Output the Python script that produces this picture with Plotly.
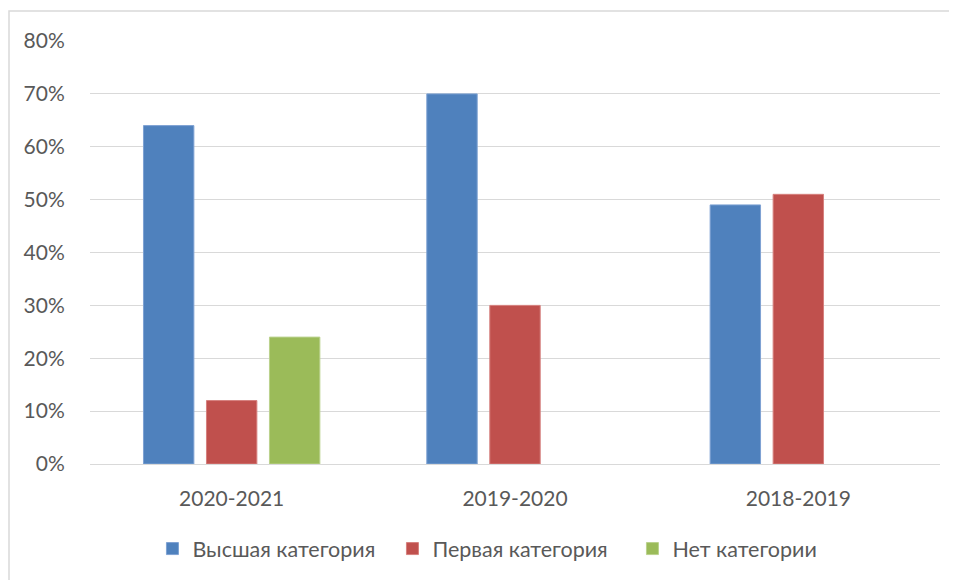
import plotly.graph_objects as go

categories = ["2020-2021", "2019-2020", "2018-2019"]
series_names = ["Высшая категория", "Первая категория", "Нет категории"]
vysshaya = [64, 70, 49]
pervaya = [12, 30, 51]
net = [24, None, None]
colors = ["#4F81BD", "#C0504D", "#9BBB59"]
line_colors = ["#7EA2D3", "#D6807E", "#BAD28D"]
y_ticks = [0, 10, 20, 30, 40, 50, 60, 70, 80]
y_tick_labels = [f"{v}%" for v in y_ticks]

font_family = "Lato, 'Open Sans', sans-serif"
text_color = "#595959"
fs = 21

fig = go.Figure()
for name, vals, c, lc in zip(series_names, [vysshaya, pervaya, net], colors, line_colors):
    fig.add_trace(go.Bar(
        x=categories, y=vals, name=name,
        marker=dict(color=c, line=dict(color=lc, width=1)),
    ))

fig.update_layout(
    width=957, height=580,
    margin=dict(l=82, r=25, t=33, b=124),
    paper_bgcolor="white", plot_bgcolor="white",
    barmode="group", bargap=0.333, bargroupgap=0.2,
    font=dict(family=font_family, size=fs, color=text_color),
    showlegend=True,
    legend=dict(orientation="h", x=0.497, xanchor="center", y=-0.2, yanchor="middle",
                font=dict(size=21.5, color=text_color), traceorder="normal",
                itemwidth=30, entrywidth=195, entrywidthmode="pixels"),
    xaxis=dict(showgrid=False, showline=False, ticks="outside", ticklen=16,
               tickcolor="rgba(0,0,0,0)", tickfont=dict(size=fs, color=text_color),
               fixedrange=True),
    yaxis=dict(range=[0, 80], tickvals=y_ticks, ticktext=y_tick_labels,
               showgrid=True, gridcolor="#D9D9D9", gridwidth=1,
               zeroline=True, zerolinecolor="#D9D9D9", zerolinewidth=1,
               showline=False, ticks="outside", ticklen=20, tickcolor="rgba(0,0,0,0)",
               tickfont=dict(size=fs, color=text_color), fixedrange=True),
    shapes=[dict(type="rect", xref="paper", yref="paper",
                 x0=-0.0953, x1=1.2, y0=1.071, y1=-0.5,
                 line=dict(color="#D9D9D9", width=1.5), fillcolor="rgba(0,0,0,0)",
                 layer="below")],
)

fig.write_html("out.html")
